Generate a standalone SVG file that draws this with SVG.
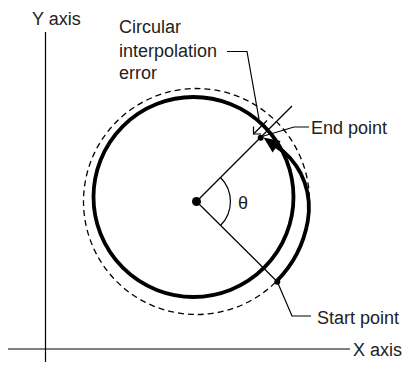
<svg xmlns="http://www.w3.org/2000/svg" width="415" height="367" viewBox="0 0 415 367">
<defs>
<style>
text{font-family:"Liberation Sans",Arial,sans-serif;font-size:18px;fill:#222}
.thin{fill:none;stroke:#000;stroke-width:1.2}
.thick{fill:none;stroke:#000;stroke-width:3.8;stroke-linejoin:round}
.dash{fill:none;stroke:#000;stroke-width:1.3;stroke-dasharray:6 4}
.dot{fill:#000}
</style>
</defs>
<rect width="415" height="367" fill="#fff"/>
<g id="axes">
<line class="thin" x1="45.5" y1="32" x2="45.5" y2="362"/>
<line class="thin" x1="8" y1="349" x2="350" y2="349"/>
<text x="32" y="25">Y axis</text>
<text x="353" y="355.5">X axis</text>
</g>
<g id="circles">
<circle class="dash" cx="196.5" cy="201.5" r="113"/>
<circle class="thick" cx="193.5" cy="197" r="100"/>
</g>
<g id="connectors">
<line class="thin" x1="196.5" y1="201.5" x2="292" y2="106"/>
<line class="thin" x1="196.5" y1="201.5" x2="277.3" y2="281.7"/>
<path class="thin" d="M220.5,177.5 A34,34 0 0 1 220.5,225.5"/>
<path class="thick" d="M276.4,281.4 A113,113 0 0 0 307.78,221.12 L308.87,211.34 L308.70,201.5 L307.27,191.8 L304.62,182.44 L300.8,173.55 L295.89,165.33 L289.99,157.9 L283.23,151.42 L275.5,146"/>
<polygon class="dot" points="263.5,137.6 280.6,141.1 272.6,152.5"/>
<path class="thin" d="M277.3,281.7 L292,316 L311,316"/>
<path class="thin" d="M262,136.5 L294,127 L309,127"/>
<path class="thin" d="M227,51.5 L247,51.5 L259,119"/>
<line class="thin" x1="253.5" y1="134" x2="267" y2="120.5"/>
<polyline class="thin" points="253.5,126.5 253.5,134 261,134"/>
</g>
<g id="center"><circle class="dot" cx="196.5" cy="201.5" r="4.5"/></g>
<g id="start"><circle class="dot" cx="277.3" cy="281.7" r="3"/><text x="317" y="323.5">Start point</text></g>
<g id="end"><circle class="dot" cx="260.7" cy="137.7" r="3"/><text x="311" y="133.5">End point</text></g>
<g id="error-label"><text x="119" y="33">Circular</text><text x="119" y="56.5">interpolation</text><text x="119" y="79">error</text></g>
<g id="theta"><text x="238" y="208.5">θ</text></g>
</svg>
